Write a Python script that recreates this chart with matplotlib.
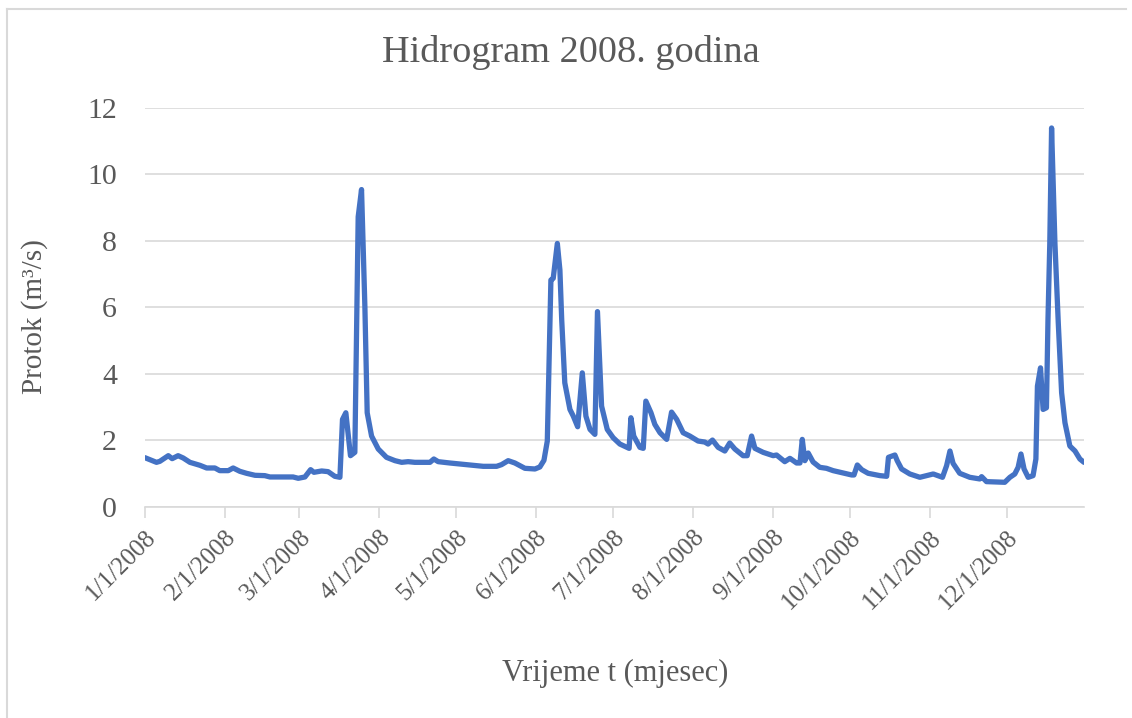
import numpy as np
import matplotlib
matplotlib.use("Agg")
import matplotlib.pyplot as plt
from matplotlib.lines import Line2D

day = [0, 4.5, 5.8, 9.1, 10.6, 12.9, 14.9, 17.5, 21.4, 24, 27.2, 29.1, 32.4, 34.3,
       36.9, 39.5, 42.8, 46.6, 48.6, 57.6, 59.6, 62.2, 64.4, 65.7, 68.7, 71.2, 73.8,
       75.8, 76.8, 78.1, 79.9, 81.6, 82.9, 84.2, 85.5, 86.4, 88.1, 90.7, 93.9, 97.2,
       99.8, 102.3, 104.9, 110.8, 112.3, 114, 118.5, 125, 131.5, 136.7, 138.6, 141.2,
       143.8, 147.7, 151.6, 153.5, 155.1, 156.4, 157.8, 158.7, 160.3, 161.3, 162,
       163.2, 165.2, 166.5, 168.2, 170, 171.4, 173, 174.9, 175.9, 177.5, 179.7, 182,
       184.6, 188.2, 188.9, 190, 192.4, 193.7, 194.7, 196.7, 198.2, 200.2, 202.8,
       204.7, 206.7, 209.2, 211.8, 215, 217.6, 218.9, 220.6, 222.8, 225.4, 227.3,
       229.3, 232.5, 234.1, 235.8, 237.1, 240.3, 244.2, 245.5, 248.7, 250.7, 253.3,
       254.6, 255.5, 256.5, 257.8, 259.7, 262.3, 264.9, 267.5, 271.4, 274.7, 275.6,
       276.9, 278.6, 281.1, 285.7, 288.3, 289, 291.5, 292.4, 294.1, 297.3, 301.2,
       303.8, 306.4, 310, 311.6, 312.9, 314.1, 316.7, 320.6, 324.5, 325.2, 327.1,
       334.2, 336.2, 338.1, 339.4, 340.5, 341.7, 343.3, 345.2, 346.3, 346.9, 348.1,
       349.1, 350.4, 351, 351.7, 352.4, 353.7, 355, 356.3, 357.6, 359.5, 361.5,
       363.4, 365]
flow = [1.48, 1.34, 1.37, 1.54, 1.45, 1.54, 1.47, 1.34, 1.25, 1.17, 1.17, 1.09, 1.09,
        1.17, 1.07, 1.01, 0.95, 0.94, 0.9, 0.9, 0.86, 0.9, 1.12, 1.04, 1.08, 1.06,
        0.92, 0.89, 2.63, 2.83, 1.54, 1.64, 8.72, 9.54, 6.02, 2.83, 2.13, 1.74, 1.49,
        1.39, 1.34, 1.36, 1.34, 1.34, 1.44, 1.36, 1.32, 1.27, 1.22, 1.22, 1.27, 1.39,
        1.32, 1.16, 1.14, 1.2, 1.4, 1.98, 6.82, 6.87, 7.92, 7.12, 5.63, 3.73, 2.93,
        2.73, 2.41, 4.03, 2.73, 2.33, 2.18, 5.87, 3.03, 2.33, 2.08, 1.89, 1.76, 2.68,
        2.13, 1.79, 1.76, 3.18, 2.83, 2.48, 2.23, 2.03, 2.85, 2.63, 2.23, 2.13, 1.98,
        1.95, 1.89, 2.01, 1.79, 1.68, 1.92, 1.74, 1.54, 1.54, 2.13, 1.76, 1.64, 1.54,
        1.56, 1.36, 1.46, 1.32, 1.32, 2.03, 1.39, 1.62, 1.35, 1.19, 1.16, 1.09, 1.02,
        0.96, 0.96, 1.26, 1.12, 1.01, 0.94, 0.92, 1.49, 1.56, 1.39, 1.14, 0.99, 0.89,
        0.94, 0.99, 0.89, 1.24, 1.68, 1.31, 1.01, 0.89, 0.84, 0.91, 0.76, 0.74, 0.89,
        0.99, 1.19, 1.59, 1.14, 0.89, 0.94, 1.44, 3.63, 4.18, 2.93, 2.98, 5.63, 7.92,
        11.39, 7.92, 5.53, 3.43, 2.53, 1.83, 1.68, 1.44, 1.34]

month_labels = ["1/1/2008", "2/1/2008", "3/1/2008", "4/1/2008", "5/1/2008", "6/1/2008",
                "7/1/2008", "8/1/2008", "9/1/2008", "10/1/2008", "11/1/2008", "12/1/2008"]
y_ticks = [0, 2, 4, 6, 8, 10, 12]

plt.rcParams['font.family'] = ['Liberation Serif', 'DejaVu Serif']
grey = '#595959'
grid = '#D9D9D9'
blue = '#4472C4'

start = np.datetime64('2008-01-01T00:00')
x = start + (np.array(day) * 24 * 60).astype('timedelta64[m]')
month_starts = np.arange('2008-01', '2009-01', dtype='datetime64[M]').astype('datetime64[m]')

fig = plt.figure(figsize=(11.32, 7.18), dpi=100)
ax = fig.add_axes([0.128, 0.294, 0.8296, 0.556])

ax.plot(x, flow, color=blue, lw=3.8, solid_joinstyle='round', solid_capstyle='round')

ax.set_xlim(start, np.datetime64('2008-12-31T00:00'))
ax.set_ylim(0, 12)
ax.set_yticks(y_ticks)
ax.set_xticks(month_starts)
ax.set_xticklabels(month_labels, rotation=45, ha='right', va='top',
                   rotation_mode='anchor')

ax.grid(axis='y', color=grid, lw=1.2)
ax.set_axisbelow(True)
for s in ['top', 'right', 'left']:
    ax.spines[s].set_visible(False)
ax.spines['bottom'].set_color(grid)
ax.spines['bottom'].set_linewidth(1.2)
ax.tick_params(axis='x', colors=grey, labelsize=18, length=8, width=1.2,
               color=grid, pad=6)
ax.tick_params(axis='y', colors=grey, labelsize=21.5, length=0, pad=20)

fig.text(35 / 1132, 1 - 317 / 718, 'Protok (m³/s)', fontsize=21, color=grey,
         rotation=90, ha='center', va='center')
fig.text(615 / 1132, 1 - 673 / 718, 'Vrijeme t (mjesec)', fontsize=22, color=grey,
         ha='center', va='center')
fig.text(571 / 1132, 1 - 53 / 718, 'Hidrogram 2008. godina', fontsize=27.5, color=grey,
         ha='center', va='center')

# chart frame (top and left edges visible)
fig.add_artist(Line2D([0.0062, 0.995], [0.988, 0.988], transform=fig.transFigure,
                      color=grid, lw=1.5))
fig.add_artist(Line2D([0.0062, 0.0062], [0.0, 0.988], transform=fig.transFigure,
                      color=grid, lw=1.5))

fig.savefig('out.png', dpi=100)
